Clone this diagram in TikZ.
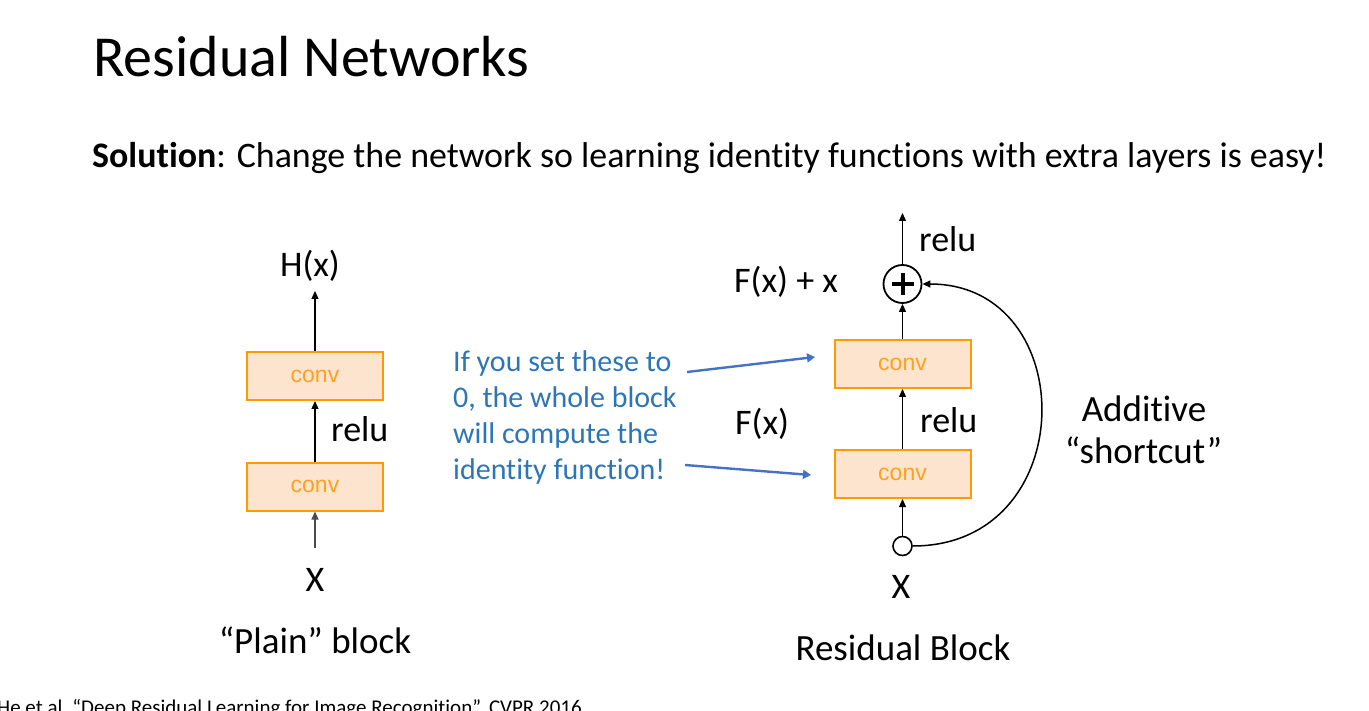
\documentclass[tikz,border=0pt]{standalone}
\usepackage{fontspec}
\setmainfont{Carlito}[Ligatures=NoCommon]
\newfontfamily\arial{Liberation Sans}
\usetikzlibrary{arrows.meta}
\definecolor{convfill}{RGB}{252,228,206}
\definecolor{convedge}{RGB}{255,155,0}
\definecolor{convtext}{RGB}{255,160,30}
\definecolor{bluetext}{RGB}{46,117,182}
\definecolor{bluearrow}{RGB}{68,114,196}
\tikzset{
  convbox/.style={draw=convedge, fill=convfill, line width=2pt, minimum width=136pt, minimum height=48pt, inner sep=0pt, text=convtext, font=\arial\fontsize{23}{27}\selectfont},
  lbl/.style={font=\fontsize{36}{43}\selectfont, inner sep=0pt},
  cal/.style={font=\fontsize{37}{44}\selectfont, inner sep=0pt},
  arr/.style={line width=1.1pt, -{Triangle[width=7pt,length=8pt]}},
  barr/.style={draw=bluearrow, line width=2.4pt, -{Triangle[width=9pt,length=8pt]}},
}
\begin{document}
\begin{tikzpicture}[x=1pt,y=-1pt]
\useasboundingbox (0,0) rectangle (1369,711);
\clip (0,0) rectangle (1369,711);
% title
\node[anchor=base west, inner sep=0pt, font=\fontsize{58}{68}\selectfont] (title) at (93,77) {Residual Networks};
\node[anchor=base west, inner sep=0pt, font=\fontsize{35.9}{43}\selectfont] (sol) at (92,168) {\textbf{Solution}: Change the network so learning identity functions with extra layers is easy!};
% plain block
\node[convbox] (p2) at (315,376) {conv};
\node[convbox] (p1) at (315,486.5) {conv};
\node[lbl, anchor=base] (hx) at (310,277) {H(x)};
\node[lbl, anchor=base west] (prelu) at (331,442) {relu};
\node[lbl, anchor=base] (px) at (315,591) {X};
\coordinate (pin) at (315,548);
\draw[arr] (p2.north) -- (p2.north |- 0,291) coordinate (hxin);
\draw[arr] (p1.north) -- (p2.south);
\draw[arr, draw=black!70] (pin) -- (p1.south);
\node[cal, anchor=base] (plabel) at (315,653) {“Plain” block};
% residual block
\node[convbox] (r2) at (902.5,364) {conv};
\node[convbox] (r1) at (902.5,474) {conv};
\node[circle, draw, line width=1.8pt, minimum size=38pt, inner sep=0pt] (plus) at (902.5,284) {};
\draw[line width=4pt] (plus.center) ++(-11,0) -- ++(22,0);
\draw[line width=4pt] (plus.center) ++(0,-11) -- ++(0,22);
\node[circle, draw, line width=1.6pt, minimum size=19pt, inner sep=0pt, fill=white] (xin) at (902.5,546) {};
\coordinate (rout) at (902.5,213);
\draw[arr] (plus.north) -- (rout);
\draw[arr] (r2.north) -- (plus.south);
\draw[arr] (r1.north) -- (r2.south);
\draw[arr] (xin.north) -- (r1.south);
\draw[arr, line width=1.5pt] (xin.east) .. controls (1082,546) and (1082,284) .. (plus.east);
\node[lbl, anchor=base west] (rrelu1) at (919,252) {relu};
\node[lbl, anchor=base west] (fxx) at (734,293) {F(x) + x};
\node[lbl, anchor=base west] (rrelu2) at (920,432) {relu};
\node[lbl, anchor=base west] (fx) at (735,435) {F(x)};
\node[lbl, anchor=base] (rx) at (901,598) {X};
\node[cal, anchor=base] (add1) at (1144,421) {Additive};
\node[cal, anchor=base] (add2) at (1143.5,464) {“shortcut”};
\node[cal, anchor=base] (rlabel) at (903,660) {Residual Block};
% blue note
\node[anchor=base west, inner sep=0pt, text=bluetext, align=left, font=\fontsize{30}{36}\selectfont] (note) at (453,479) {If you set these to\\0, the whole block\\will compute the\\identity function!};
\coordinate (n1) at (687,372);
\coordinate (n1t) at (815,357);
\coordinate (n2) at (685,465);
\coordinate (n2t) at (811,475);
\draw[barr] (n1) -- (n1t);
\draw[barr] (n2) -- (n2t);
% citation
\node[anchor=base west, inner sep=0pt, font=\fontsize{21}{25}\selectfont] (cite) at (-3,714) {He et al, “Deep Residual Learning for Image Recognition”, CVPR 2016};
\end{tikzpicture}
\end{document}
